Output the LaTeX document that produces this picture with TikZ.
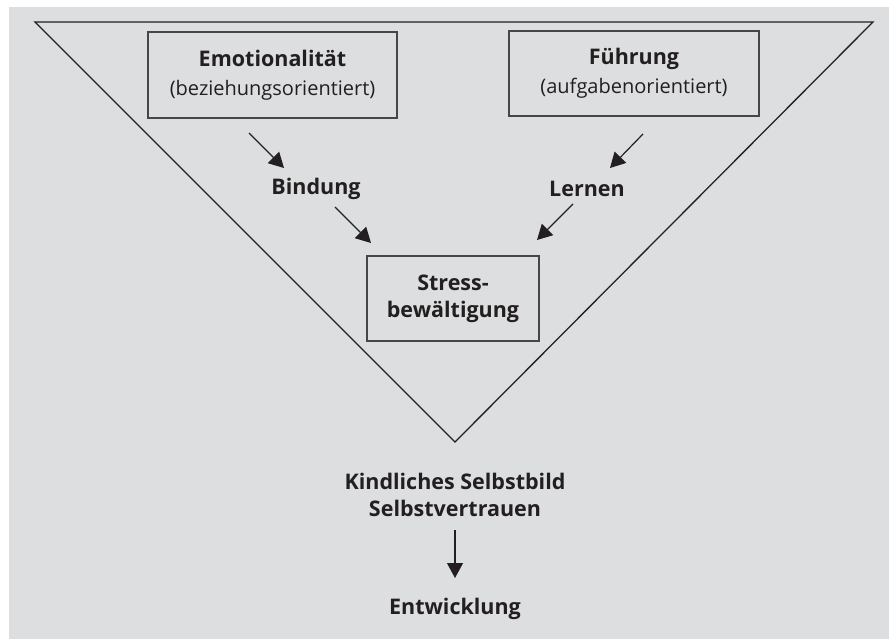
\documentclass[tikz,border=0pt]{standalone}
\usepackage{fontspec}
\setmainfont{Open Sans}
\usetikzlibrary{arrows.meta}
\definecolor{bg}{RGB}{221,222,223}
\definecolor{ink}{RGB}{35,31,32}
\definecolor{boxline}{RGB}{70,70,70}
\tikzset{
  box/.style={draw=boxline, line width=1.4pt, align=center, inner sep=0pt, text=ink},
  bfnt/.style={font=\fontsize{21.5}{27}\selectfont\bfseries},
  rfnt/.style={font=\fontsize{20}{29}\selectfont},
  lbl/.style={text=ink, bfnt, align=center},
  arr/.style={draw=ink, line width=1.2pt, -{Triangle[length=15pt,width=16pt]}},
  tri/.style={draw=ink, line width=1.3pt}
}
\begin{document}
\begin{tikzpicture}[x=1pt,y=-1pt]
\useasboundingbox (0,0) rectangle (889,639);
\fill[bg] (9,7) rectangle (889,639);
\draw[tri] (35,22) -- (873,22) -- (455,442) -- cycle;
\node[box, minimum width=249pt, minimum height=86pt, rfnt] (emo) at (272.5,75) {{\fontsize{21.5}{29}\selectfont\bfseries Emotionalität}\\(beziehungsorientiert)};
\node[box, minimum width=250pt, minimum height=85pt, rfnt] (fue) at (634,73.5) {{\fontsize{21.5}{29}\selectfont\bfseries Führung}\\(aufgabenorientiert)};
\node[box, minimum width=172pt, minimum height=85pt, lbl] (stress) at (453,298.5) {Stress-\\bewältigung};
\node[lbl] (bind) at (316,189) {Bindung};
\node[lbl] (lern) at (587,189) {Lernen};
\node[lbl] (kind) at (455,494.5) {Kindliches Selbstbild\\Selbstvertrauen};
\node[lbl] (entw) at (455,609) {Entwicklung};
\coordinate (a1s) at (249,133);
\coordinate (a1e) at (284,168);
\coordinate (a2s) at (335,207);
\coordinate (a2e) at (371,243);
\coordinate (a3s) at (643,134);
\coordinate (a3e) at (610,168);
\coordinate (a4s) at (573,204);
\coordinate (a4e) at (537,240);
\coordinate (a5s) at (455,530);
\coordinate (a5e) at (455,578);
\draw[arr] (a1s) -- (a1e);
\draw[arr] (a2s) -- (a2e);
\draw[arr] (a3s) -- (a3e);
\draw[arr] (a4s) -- (a4e);
\draw[arr] (a5s) -- (a5e);
\end{tikzpicture}
\end{document}
